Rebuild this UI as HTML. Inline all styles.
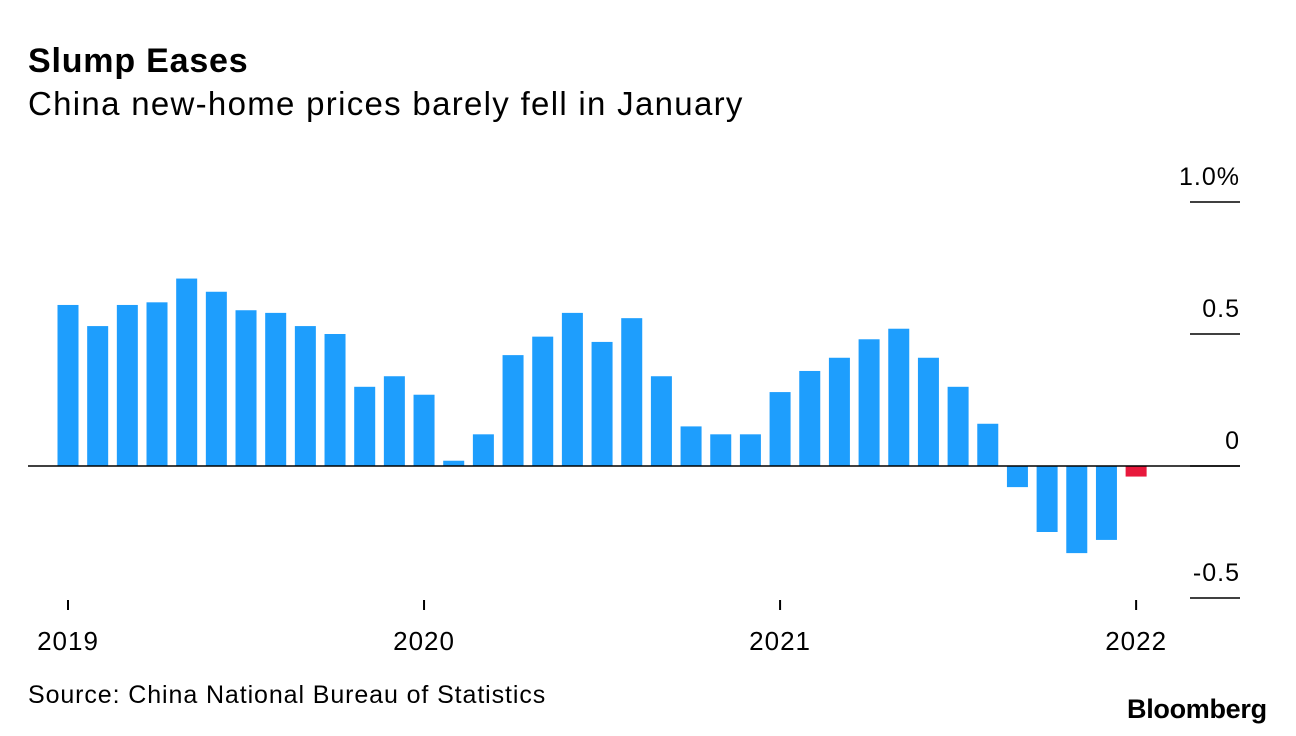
<!DOCTYPE html>
<html><head><meta charset="utf-8"><style>
body{margin:0;width:1296px;height:736px;background:#fff;font-family:"Liberation Sans",Arial,sans-serif;overflow:hidden;position:relative}
.t{position:absolute;color:#000;white-space:nowrap}
</style></head><body>
<div class="t" style="left:28px;top:42px;font-size:34px;font-weight:bold;letter-spacing:0.8px">Slump Eases</div>
<div class="t" style="left:28px;top:85px;font-size:33px;letter-spacing:1.3px">China new-home prices barely fell in January</div>
<svg id="c" width="1296" height="736" style="position:absolute;left:0;top:0"></svg>
<div class="t" style="left:28px;top:681px;font-size:25px;letter-spacing:0.9px">Source: China National Bureau of Statistics</div>
<div class="t" style="left:1127px;top:694px;font-size:27px;font-weight:bold;letter-spacing:-0.3px">Bloomberg</div>
<script>
const values=[0.61,0.53,0.61,0.62,0.71,0.66,0.59,0.58,0.53,0.50,0.30,0.34,0.27,0.02,0.12,0.42,0.49,0.58,0.47,0.56,0.34,0.15,0.12,0.12,0.28,0.36,0.41,0.48,0.52,0.41,0.30,0.16,-0.08,-0.25,-0.33,-0.28,-0.04];
const yTicks=[1.0,0.5,0,-0.5];
const yTickLabels=["1.0%","0.5","0","-0.5"];
const xLabels=["2019","2020","2021","2022"];
const xLabelIdx=[0,12,24,36];
const NS="http://www.w3.org/2000/svg";
const svg=document.getElementById('c');
const y=v=>466-v*264;
const x=i=>68+i*29.67;
function mk(t,a){const e=document.createElementNS(NS,t);for(const k in a)e.setAttribute(k,a[k]);svg.appendChild(e);return e;}
yTicks.forEach((v,i)=>{
 const l=mk('line',{x1:1190,x2:1240,y1:y(v),y2:y(v),stroke:'#000','stroke-width':1.5});
 
 
 const t=mk('text',{x:1240,y:y(v)-17,'text-anchor':'end','font-size':25,'letter-spacing':1,'font-family':'Liberation Sans, sans-serif'});
 t.textContent=yTickLabels[i];
 
 
});
values.forEach((v,i)=>{
 const r=mk('rect',{x:x(i)-10.5,width:21,y:Math.min(y(v),y(0)),height:Math.abs(y(v)-y(0)),fill:i===values.length-1?'#e8193c':'#1e9efd'});
 
 
});
const z=mk('line',{x1:28,x2:1240,y1:y(0),y2:y(0),stroke:'#000','stroke-width':1.5});


xLabelIdx.forEach((idx,i)=>{
 const l=mk('line',{x1:x(idx),x2:x(idx),y1:600,y2:610,stroke:'#000','stroke-width':2});
 
 
 const t=mk('text',{x:x(idx),y:650,'text-anchor':'middle','font-size':26,'letter-spacing':1,'font-family':'Liberation Sans, sans-serif'});
 t.textContent=xLabels[i];
 
 
});
</script>
</body></html>
